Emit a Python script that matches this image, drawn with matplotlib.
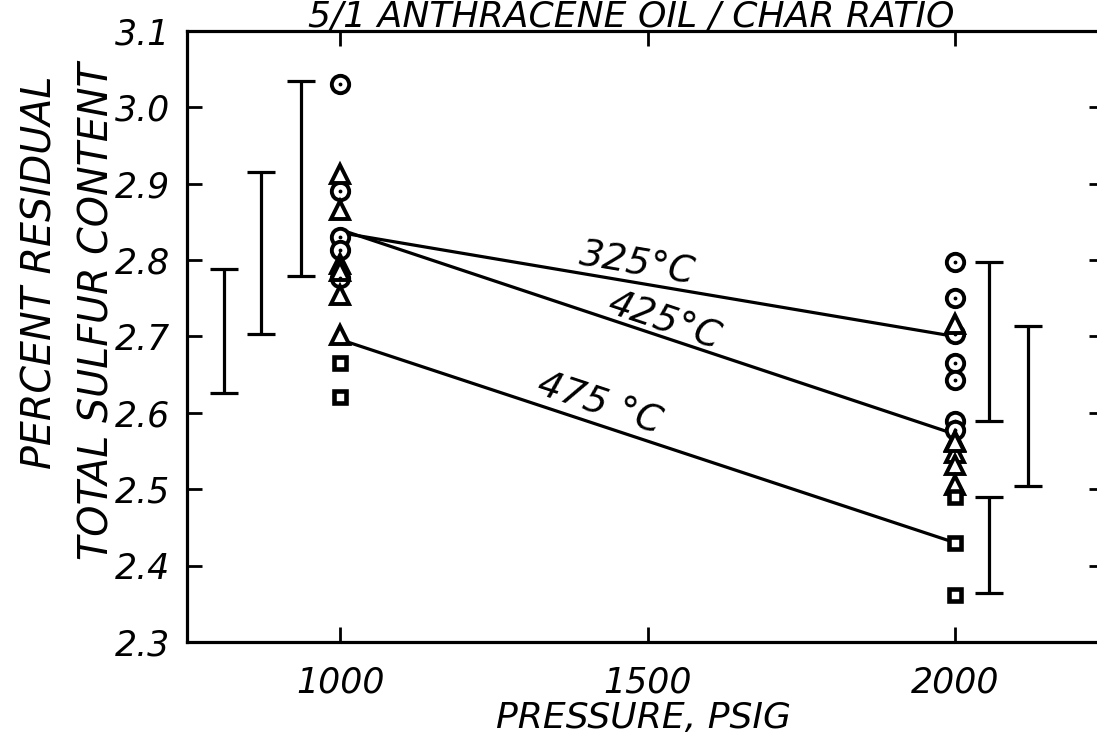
import numpy as np
import matplotlib
matplotlib.use("Agg")
import matplotlib.pyplot as plt

# ---- data -------------------------------------------------------------
# individual sulfur measurements at each pressure (psig)
circle_p = [1000, 1000, 1000, 1000, 1000,
            2000, 2000, 2000, 2000, 2000, 2000, 2000]
circle_s = [3.03, 2.89, 2.83, 2.813, 2.776,
            2.797, 2.750, 2.703, 2.665, 2.643, 2.590, 2.577]

triangle_p = [1000, 1000, 1000, 1000, 1000, 1000,
              2000, 2000, 2000, 2000, 2000, 2000]
triangle_s = [2.913, 2.866, 2.795, 2.786, 2.754, 2.702,
              2.717, 2.563, 2.548, 2.532, 2.506, 2.562]

square_p = [1000, 1000, 2000, 2000, 2000]
square_s = [2.665, 2.621, 2.490, 2.430, 2.362]

# fitted trend lines per temperature (1000 -> 2000 psig)
trend_labels = ["325°C", "425°C", "475 °C"]
trend_p = [1000, 2000]
trend_325 = [2.836, 2.700]
trend_425 = [2.840, 2.572]
trend_475 = [2.696, 2.430]

# reproducibility ranges (low, high) shown as bars
range_p = [811, 872, 937, 2055, 2119, 2055]
range_lo = [2.626, 2.703, 2.779, 2.590, 2.504, 2.364]
range_hi = [2.789, 2.916, 3.034, 2.798, 2.714, 2.490]

x_ticks = [1000, 1500, 2000]
x_ticklabels = ["1000", "1500", "2000"]
y_ticks = [2.3, 2.4, 2.5, 2.6, 2.7, 2.8, 2.9, 3.0, 3.1]
y_ticklabels = ["2.3", "2.4", "2.5", "2.6", "2.7", "2.8", "2.9", "3.0", "3.1"]

# ---- figure -----------------------------------------------------------
W, H = 1097, 738
fig = plt.figure(figsize=(W / 100, H / 100), dpi=100)
left_px, right_px, top_px, bot_px = 187, 1104, 31, 642
ax = fig.add_axes([left_px / W, 1 - bot_px / H,
                   (right_px - left_px) / W, (bot_px - top_px) / H])

FONT = dict(family="DejaVu Sans", style="italic")
FS = 25

ax.set_xlim(751, 2242)
ax.set_ylim(2.3, 3.1)

for sp in ax.spines.values():
    sp.set_linewidth(2.3)

ax.set_xticks(x_ticks)
ax.set_xticklabels(x_ticklabels, fontsize=FS, **FONT)
ax.set_yticks(y_ticks)
ax.set_yticklabels(y_ticklabels, fontsize=FS, **FONT)
ax.tick_params(direction="in", length=11, width=2.0,
               top=True, right=True)
ax.tick_params(axis="x", pad=17)
ax.tick_params(axis="y", pad=12)

# trend lines
for ys in (trend_325, trend_425, trend_475):
    ax.plot(trend_p, ys, color="black", lw=2.3, zorder=2)

# markers
ax.plot(circle_p, circle_s, linestyle="none", marker="o", ms=12.5,
        mfc="white", mec="black", mew=2.8, zorder=3)
ax.plot(circle_p, circle_s, linestyle="none", marker=".", ms=3.5,
        color="black", zorder=4)
ax.plot(triangle_p, triangle_s, linestyle="none", marker="^", ms=12.5,
        mfc="white", mec="black", mew=2.8, zorder=3)
ax.plot(square_p, square_s, linestyle="none", marker="s", ms=9,
        mfc="white", mec="black", mew=3.3, zorder=3)

# range bars
mid = (np.array(range_hi) + np.array(range_lo)) / 2
half = (np.array(range_hi) - np.array(range_lo)) / 2
ax.errorbar(range_p, mid, yerr=half, fmt="none", ecolor="black",
            elinewidth=2.3, capsize=10, capthick=2.3, zorder=2)

# temperature labels set along their lines
label_pos = [(1483, 2.795), (1527, 2.720), (1421, 2.612)]
for text, (xp, yp), ys in zip(trend_labels, label_pos,
                               (trend_325, trend_425, trend_475)):
    p0 = ax.transData.transform((trend_p[0], ys[0]))
    p1 = ax.transData.transform((trend_p[1], ys[1]))
    ang = np.degrees(np.arctan2(p1[1] - p0[1], p1[0] - p0[0]))
    ax.text(xp, yp, text, rotation=ang, rotation_mode="anchor",
            ha="center", va="center", fontsize=27, **FONT)

# axis titles
fig.text(643 / W, 1 - 718 / H, "PRESSURE, PSIG", ha="center", va="center",
         fontsize=26, **FONT)
fig.text(40 / W, 1 - 272 / H, "PERCENT RESIDUAL", rotation=90,
         ha="center", va="center", fontsize=28.5, **FONT)
fig.text(97 / W, 1 - 311 / H, "TOTAL SULFUR CONTENT", rotation=90,
         ha="center", va="center", fontsize=28.5, **FONT)
fig.text(631 / W, 1 - 27 / H, "5/1 ANTHRACENE OIL / CHAR RATIO",
         ha="center", va="baseline", fontsize=26, **FONT)

fig.savefig("out.png", dpi=100, facecolor="white")
